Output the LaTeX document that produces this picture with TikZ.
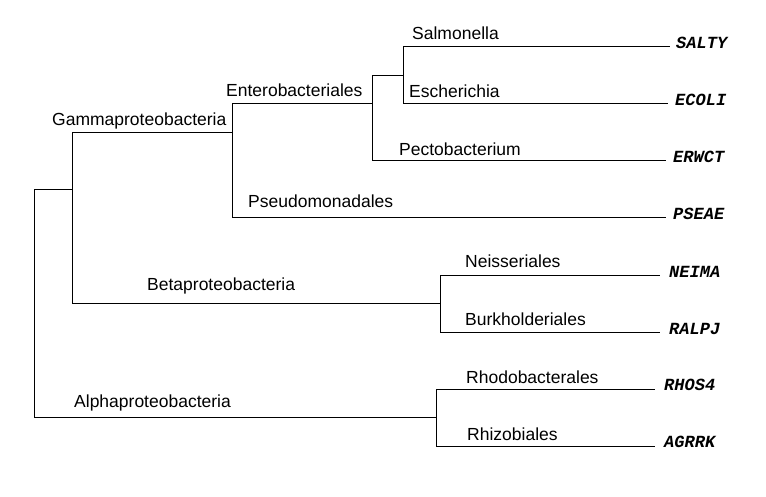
\documentclass[tikz,border=0pt]{standalone}
\usepackage{fontspec}
\setmainfont{Liberation Sans}
\newfontfamily\leaffont{Liberation Mono}
\begin{document}
\begin{tikzpicture}[x=1pt,y=-1pt,
  branch/.style={draw=black,line width=1pt},
  clade/.style={anchor=base west,inner sep=0pt,font=\fontsize{17.5}{20}\selectfont},
  leaf/.style={anchor=base west,inner sep=0pt,font=\leaffont\bfseries\itshape\fontsize{17}{20}\selectfont}]
\useasboundingbox (0,0) rectangle (766,496);
\fill[white] (0,0) rectangle (766,496);
% internal node coordinates
\coordinate (root) at (34,189);
\coordinate (rootT) at (34,189);
\coordinate (rootB) at (34,417);
\coordinate (gb) at (72,189);
\coordinate (gbT) at (72,132);
\coordinate (gbB) at (72,303);
\coordinate (ga) at (232,132);
\coordinate (gaT) at (232,103);
\coordinate (gaB) at (232,217);
\coordinate (en) at (372,103);
\coordinate (enT) at (372,75);
\coordinate (enB) at (372,160);
\coordinate (se) at (403,75);
\coordinate (seT) at (403,46);
\coordinate (seB) at (403,103);
\coordinate (be) at (440,303);
\coordinate (beT) at (440,275);
\coordinate (beB) at (440,332);
\coordinate (al) at (436,417);
\coordinate (alT) at (436,389);
\coordinate (alB) at (436,446);
% leaf ends
\coordinate (lSALTY) at (670,46);
\coordinate (lECOLI) at (668,103);
\coordinate (lERWCT) at (666,160);
\coordinate (lPSEAE) at (666,217);
\coordinate (lNEIMA) at (660,275);
\coordinate (lRALPJ) at (660,332);
\coordinate (lRHOS) at (655,389);
\coordinate (lAGRRK) at (655,446);
% branches
\draw[branch] (rootT) -- (rootB);
\draw[branch] (root) -- (gb);
\draw[branch] (gbT) -- (gbB);
\draw[branch] (rootB) -- (al);
\draw[branch] (alT) -- (alB);
\draw[branch] (alT) -- (lRHOS);
\draw[branch] (alB) -- (lAGRRK);
\draw[branch] (gbT) -- (ga);
\draw[branch] (gaT) -- (gaB);
\draw[branch] (gaB) -- (lPSEAE);
\draw[branch] (gaT) -- (en);
\draw[branch] (enT) -- (enB);
\draw[branch] (enB) -- (lERWCT);
\draw[branch] (enT) -- (se);
\draw[branch] (seT) -- (seB);
\draw[branch] (seT) -- (lSALTY);
\draw[branch] (seB) -- (lECOLI);
\draw[branch] (gbB) -- (be);
\draw[branch] (beT) -- (beB);
\draw[branch] (beT) -- (lNEIMA);
\draw[branch] (beB) -- (lRALPJ);
% clade labels
\node[clade] (tSal) at (412,39.5) {Salmonella};
\node[clade] (tEsc) at (409,97) {Escherichia};
\node[clade] (tPec) at (399,155.5) {Pectobacterium};
\node[clade] (tPse) at (248,207.5) {Pseudomonadales};
\node[clade] (tEnt) at (226,96.5) {Enterobacteriales};
\node[clade] (tGam) at (52,125.5) {Gammaproteobacteria};
\node[clade] (tBet) at (147,290.5) {Betaproteobacteria};
\node[clade] (tAlp) at (74,407.5) {Alphaproteobacteria};
\node[clade] (tNei) at (465,267.5) {Neisseriales};
\node[clade] (tBur) at (465,325.5) {Burkholderiales};
\node[clade] (tRho) at (466,383.5) {Rhodobacterales};
\node[clade] (tRhi) at (467,440.5) {Rhizobiales};
% leaf labels
\node[leaf] (SALTY) at (676,48) {SALTY};
\node[leaf] (ECOLI) at (675,105) {ECOLI};
\node[leaf] (ERWCT) at (673,162) {ERWCT};
\node[leaf] (PSEAE) at (673,219) {PSEAE};
\node[leaf] (NEIMA) at (669,277) {NEIMA};
\node[leaf] (RALPJ) at (669,334) {RALPJ};
\node[leaf] (RHOS4) at (664,390) {RHOS4};
\node[leaf] (AGRRK) at (664,447) {AGRRK};
\end{tikzpicture}
\end{document}
